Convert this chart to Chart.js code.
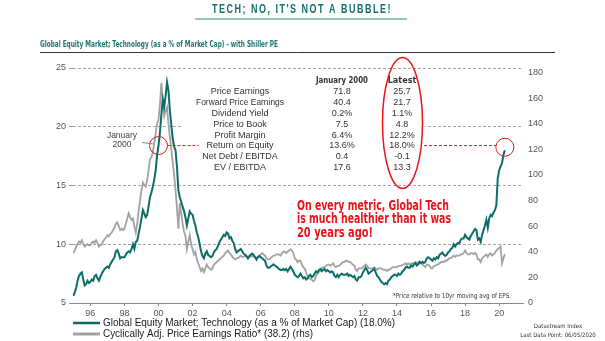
<!DOCTYPE html>
<html>
<head>
<meta charset="utf-8">
<script src="https://cdn.jsdelivr.net/npm/chart.js@4.4.1/dist/chart.umd.min.js"></script>
<style>
  html, body { margin: 0; padding: 0; background: #fff; }
</style>
</head>
<body>
<canvas id="techChart" width="605" height="341"></canvas>
<script>
// monthly series, Jan 1995 .. May 2020
const startYear = 1995;

// Global tech as % of market cap (lhs)
const techShare = [
    5.6, 5.9, 6.3, 6.9, 7.3, 7.5, 7.6, 7.0, 6.5, 6.6, 6.9, 6.7,
    6.8, 7.0, 6.9, 7.3, 7.4, 7.1, 6.9, 7.2, 7.5, 7.7, 7.9, 8.0,
    8.1, 8.0, 8.3, 8.5, 8.7, 8.9, 9.4, 9.5, 9.2, 8.8, 8.9, 8.9,
    8.9, 9.1, 9.3, 9.4, 9.3, 9.6, 10.0, 9.6, 10.2, 10.3, 10.9, 11.5,
    12.2, 12.9, 12.6, 12.3, 12.5, 13.2, 14.0, 14.4, 14.9, 15.5, 16.3, 17.6,
    18.4, 19.5, 21.0, 22.3, 21.7, 22.6, 23.8, 23.1, 21.4, 20.2, 19.0, 18.3,
    18.0, 16.6, 14.6, 14.0, 13.6, 13.2, 12.8, 12.3, 11.6, 12.2, 12.8, 12.6,
    12.5, 12.0, 11.6, 11.0, 10.6, 10.0, 9.4, 9.0, 8.8, 9.2, 9.4, 9.1,
    9.0, 8.9, 9.0, 9.3, 9.5, 9.6, 9.9, 10.2, 10.4, 10.6, 10.8, 10.7,
    11.0, 10.9, 10.5, 10.6, 10.3, 10.1, 9.6, 9.3, 9.4, 9.5, 9.6, 9.4,
    9.2, 9.1, 9.0, 8.8, 9.0, 9.1, 9.2, 9.1, 8.9, 8.7, 8.9, 9.0,
    8.9, 8.8, 8.7, 8.6, 8.2, 8.0, 8.0, 8.1, 8.2, 8.3, 8.2, 8.1,
    8.0, 7.9, 7.8, 7.8, 7.9, 7.8, 7.9, 7.7, 7.9, 8.1, 7.9, 7.7,
    7.4, 7.3, 7.2, 7.3, 7.5, 7.3, 7.1, 7.2, 7.0, 7.1, 7.3, 7.4,
    7.2, 7.3, 7.5, 7.7, 7.6, 7.8, 7.9, 7.7, 7.8, 7.9, 7.7, 7.8,
    7.7, 7.6, 7.7, 7.6, 7.3, 7.2, 7.4, 7.2, 7.4, 7.5, 7.4, 7.4,
    7.4, 7.5, 7.3, 7.4, 7.3, 7.2, 7.3, 7.0, 6.9, 7.2, 7.2, 7.3,
    7.6, 7.8, 8.0, 7.8, 7.5, 7.6, 7.7, 7.8, 7.9, 7.6, 7.3, 7.2,
    7.0, 6.8, 6.7, 6.6, 6.7, 6.6, 6.9, 7.0, 7.2, 7.3, 7.4, 7.4,
    7.3, 7.5, 7.4, 7.5, 7.7, 7.8, 8.0, 8.1, 8.0, 8.0, 8.2, 8.1,
    8.3, 8.4, 8.2, 8.3, 8.5, 8.4, 8.5, 8.4, 8.5, 8.8, 8.9, 8.8,
    8.7, 8.6, 8.8, 8.7, 8.9, 8.8, 9.1, 9.2, 9.3, 9.1, 9.0, 9.1,
    9.3, 9.4, 9.6, 9.7, 10.0, 9.8, 10.0, 10.1, 10.1, 10.4, 10.5, 10.5,
    10.8, 10.6, 10.5, 10.4, 10.7, 10.9, 11.1, 11.3, 11.2, 10.4, 10.5, 10.2,
    10.8, 11.2, 11.6, 12.1, 11.4, 12.2, 12.5, 12.4, 12.7, 12.9, 13.3, 15.6,
    16.3, 16.6, 16.9, 17.6, 18.0
];

// Cyclically adjusted PE (rhs)
const shillerPE = [
    39, 41, 44, 46, 48, 47, 49, 46, 44, 45, 46, 45,
    45, 47, 48, 47, 49, 47, 44, 45, 46, 48, 50, 51,
    53, 52, 54, 55, 57, 59, 62, 63, 60, 57, 58, 57,
    58, 62, 66, 70, 67, 65, 66, 60, 55, 62, 72, 80,
    88, 94, 92, 91, 96, 104, 112, 114, 118, 125, 132, 140,
    143, 155, 172, 160, 146, 150, 153, 140, 130, 120, 110, 100,
    88, 74, 58, 78, 70, 62, 56, 52, 42, 48, 53, 46,
    42, 38, 40, 34, 31, 28, 25, 27, 24, 27, 30, 28,
    27, 26, 27, 30, 31, 32, 33, 34, 35, 36, 37, 39,
    40, 41, 39, 38, 36, 35, 34, 35, 35, 36, 37, 36,
    36, 37, 36, 35, 36, 36, 37, 36, 36, 35, 36, 37,
    38, 39, 38, 37, 35, 34, 34, 35, 36, 37, 37, 38,
    38, 38, 37, 39, 40, 40, 39, 40, 41, 42, 41, 39,
    35, 34, 32, 33, 33, 30, 28, 27, 24, 21, 19, 19,
    18, 17, 18, 21, 23, 24, 26, 27, 28, 28, 29, 30,
    30, 29, 30, 31, 29, 28, 29, 29, 30, 31, 32, 32,
    33, 33, 32, 32, 31, 30, 29, 26, 25, 27, 27, 27,
    28, 29, 30, 29, 27, 27, 27, 27, 28, 27, 26, 27,
    27, 27, 26, 26, 26, 25, 26, 26, 27, 28, 28, 28,
    28, 29, 29, 29, 30, 30, 31, 30, 31, 30, 31, 31,
    31, 32, 31, 32, 31, 31, 30, 29, 28, 30, 30, 29,
    27, 27, 29, 29, 30, 30, 31, 32, 32, 32, 33, 33,
    34, 35, 35, 36, 37, 36, 37, 37, 37, 38, 38, 39,
    41, 39, 38, 38, 39, 39, 38, 39, 38, 34, 34, 32,
    35, 36, 37, 38, 36, 38, 39, 37, 38, 39, 41, 42,
    43, 44, 31, 35, 38.2
];

const yearTicks = [1996, 1998, 2000, 2002, 2004, 2006, 2008, 2010, 2012, 2014, 2016, 2018, 2020];
const leftTicks = [5, 10, 15, 20, 25];
const rightTicks = [0, 20, 40, 60, 80, 100, 120, 140, 160, 180];

const metricNames = ['Price Earnings', 'Forward Price Earnings', 'Dividend Yield', 'Price to Book',
    'Profit Margin', 'Return on Equity', 'Net Debt / EBITDA', 'EV / EBITDA'];
const jan2000Vals = ['71.8', '40.4', '0.2%', '7.5', '6.4%', '13.6%', '0.4', '17.6'];
const latestVals = ['25.7', '21.7', '1.1%', '4.8', '12.2%', '18.0%', '-0.1', '13.3'];

const TEAL = '#0b6d69';
const GREY = '#a2a2a2';
const RED = '#e8151b';

function toPoints(arr) {
    return arr.map((v, i) => ({ x: startYear + i / 12, y: v }));
}

function txt(ctx, s, x, y, font, color, align, maxW) {
    ctx.font = font;
    ctx.fillStyle = color;
    ctx.textAlign = align || 'left';
    ctx.textBaseline = 'middle';
    if (maxW) ctx.fillText(s, x, y, maxW);
    else ctx.fillText(s, x, y);
}

function line(ctx, x1, y1, x2, y2, color, w, dash) {
    ctx.beginPath();
    ctx.strokeStyle = color;
    ctx.lineWidth = w;
    ctx.setLineDash(dash || []);
    ctx.moveTo(x1, y1);
    ctx.lineTo(x2, y2);
    ctx.stroke();
    ctx.setLineDash([]);
}

// everything around the plot: headings, table, call-outs, legend
const decoPlugin = {
    id: 'deco',
    beforeDatasetsDraw(chart) {
        // white panel behind the metrics table
        const ctx = chart.ctx;
        ctx.save();
        ctx.fillStyle = '#fff';
        ctx.fillRect(182, 72, 243, 111);
        ctx.restore();
    },
    afterDraw(chart) {
        const ctx = chart.ctx;
        const narrow = '"Liberation Sans Narrow", "DejaVu Sans Condensed", sans-serif';
        const sans = '"Liberation Sans", Arial, sans-serif';
        ctx.save();

        // title
        ctx.letterSpacing = '2px';
        txt(ctx, "TECH; NO, IT'S NOT A BUBBLE!", 302, 10, 'bold 12px ' + sans, '#17706c', 'center', 180);
        ctx.letterSpacing = '0px';
        line(ctx, 195, 19, 407, 19, '#8ec8c6', 2);

        txt(ctx, 'Global Equity Market; Technology (as a % of Market Cap) - with Shiller PE',
            40, 45, 'bold 9.5px ' + narrow, '#1e7470', 'left', 238);
        line(ctx, 40, 52.5, 555, 52.5, '#333', 1);

        // metrics table
        txt(ctx, 'January 2000', 342, 81, 'bold 9px ' + narrow, '#333', 'center', 52);
        txt(ctx, 'Latest', 402, 81, 'bold 9px ' + narrow, '#333', 'center');
        metricNames.forEach((name, i) => {
            const y = 92 + i * 10.8;
            txt(ctx, name, 240, y, '9px ' + sans, '#333', 'center', 88);
            txt(ctx, jan2000Vals[i], 342, y, '9px ' + sans, '#333', 'center');
            txt(ctx, latestVals[i], 402, y, '9px ' + sans, '#333', 'center');
        });
        ctx.beginPath();
        ctx.strokeStyle = RED;
        ctx.lineWidth = 1.5;
        ctx.ellipse(402.5, 123, 20, 65.5, 0, 0, Math.PI * 2);
        ctx.stroke();

        // circles on Jan 2000 and latest points
        const pts = chart.getDatasetMeta(0).data;
        const pJan = pts[(2000 - startYear) * 12];
        const pLast = pts[pts.length - 1];
        const r = 9;
        ctx.strokeStyle = RED;
        ctx.lineWidth = 1;
        ctx.beginPath();
        ctx.arc(pJan.x, pJan.y, r, 0, Math.PI * 2);
        ctx.stroke();
        ctx.beginPath();
        ctx.arc(pLast.x, pLast.y - 3, r, 0, Math.PI * 2);
        ctx.stroke();
        line(ctx, pJan.x + r, pJan.y, 199, pJan.y, RED, 1, [3, 2]);
        line(ctx, 424, pJan.y, pLast.x - r, pJan.y, RED, 1, [3, 2]);

        txt(ctx, 'January', 122, 136, '8.5px ' + sans, '#444', 'center');
        txt(ctx, '2000', 122, 145, '8.5px ' + sans, '#444', 'center');
        line(ctx, 142, 142.5, pJan.x - 5, 144, '#888', 1);

        // call-out
        const redFont = 'bold 13.5px ' + narrow;
        txt(ctx, 'On every metric, Global Tech', 297, 206, redFont, RED, 'left', 152);
        txt(ctx, 'is much healthier than it was', 297, 219.5, redFont, RED, 'left', 154);
        txt(ctx, '20 years ago!', 297, 233, redFont, RED, 'left', 76);

        txt(ctx, '*Price relative to 10yr moving avg of EPS.', 511, 296, '7px ' + narrow, '#333', 'right', 118);

        // legend
        const ds = chart.data.datasets;
        line(ctx, 73, 323, 100, 323, TEAL, 2.5);
        txt(ctx, ds[0].label, 103, 323, '10px ' + sans, '#1a1a1a', 'left', 292);
        line(ctx, 73, 334, 100, 334, GREY, 3);
        txt(ctx, ds[1].label, 103, 334, '10px ' + sans, '#1a1a1a', 'left', 210);

        txt(ctx, 'Datastream Index', 558, 326, '6px ' + narrow, '#333', 'center');
        txt(ctx, 'Last Data Point: 06/05/2020', 558, 335, '6px ' + narrow, '#333', 'center');

        ctx.restore();
    }
};

function renderTechChart() {
    const ctx = document.getElementById('techChart').getContext('2d');
    const tickFont = { family: 'Liberation Sans', size: 9 };

    new Chart(ctx, {
        type: 'line',
        data: {
            datasets: [
                {
                    label: 'Global Equity Market; Technology (as a % of Market Cap) (18.0%)',
                    data: toPoints(techShare),
                    yAxisID: 'y',
                    borderColor: TEAL,
                    borderWidth: 2,
                    pointRadius: 0,
                    tension: 0,
                    order: 1
                },
                {
                    label: 'Cyclically Adj. Price Earnings Ratio* (38.2) (rhs)',
                    data: toPoints(shillerPE),
                    yAxisID: 'y1',
                    borderColor: GREY,
                    borderWidth: 1.8,
                    pointRadius: 0,
                    tension: 0,
                    order: 2
                }
            ]
        },
        options: {
            responsive: false,
            devicePixelRatio: 1,
            animation: false,
            layout: { padding: { top: 68, left: 0, right: 0, bottom: 0 } },
            plugins: {
                legend: { display: false },
                tooltip: { enabled: false }
            },
            scales: {
                x: {
                    type: 'linear',
                    min: 1994.98,
                    max: 2021.4,
                    afterBuildTicks: (s) => { s.ticks = yearTicks.map(v => ({ value: v })); },
                    afterFit: (s) => { s.height = 38; },
                    grid: { drawOnChartArea: false, drawTicks: true, tickLength: 3, color: '#888' },
                    border: { display: true, color: '#888', width: 1 },
                    ticks: {
                        font: tickFont, color: '#555', padding: 2, maxRotation: 0,
                        callback: (val) => String(val).slice(2)
                    }
                },
                y: {
                    position: 'left',
                    min: 5,
                    max: 25,
                    afterBuildTicks: (s) => { s.ticks = leftTicks.map(v => ({ value: v })); },
                    afterFit: (s) => { s.width = 73; },
                    grid: {
                        color: (c) => (c.tick && c.tick.value === 5 ? 'rgba(0,0,0,0)' : '#a5a5a5'),
                        tickLength: 4,
                        tickColor: '#999'
                    },
                    border: { display: false, dash: [3, 2] },
                    ticks: { font: tickFont, color: '#555', padding: 3 }
                },
                y1: {
                    position: 'right',
                    min: 0,
                    max: 183.5,
                    afterBuildTicks: (s) => { s.ticks = rightTicks.map(v => ({ value: v })); },
                    afterFit: (s) => { s.width = 82; },
                    grid: { display: false, drawTicks: false },
                    border: { display: false },
                    ticks: { font: tickFont, color: '#555', padding: 5 }
                }
            }
        },
        plugins: [decoPlugin]
    });
}

document.addEventListener('DOMContentLoaded', renderTechChart);
</script>
</body>
</html>
